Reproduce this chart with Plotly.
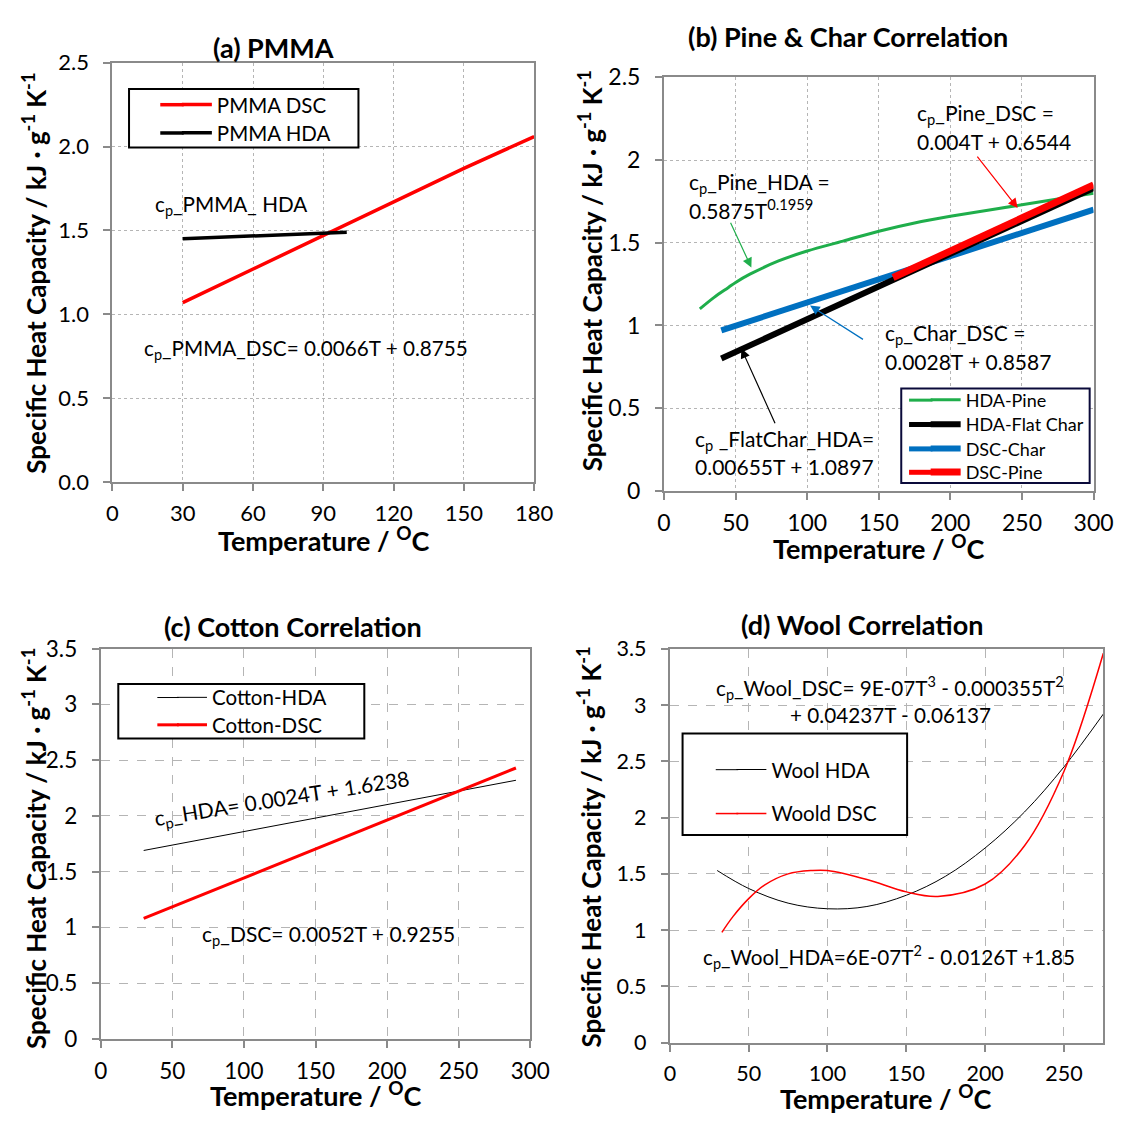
import plotly.graph_objects as go

W, H = 1137, 1122
FONT = "Lato"

# ---------------- data ----------------
pmma_T_dsc = [30, 60, 90, 120, 150, 180]
pmma_cp_dsc = [1.07, 1.27, 1.47, 1.67, 1.87, 2.06]
pmma_T_hda = [30, 100]
pmma_cp_hda = [1.45, 1.49]

pine_T_hda = [25, 35, 45, 50, 60, 80, 100, 125, 150, 175, 200, 250, 300]
pine_cp_hda = [1.10, 1.17, 1.23, 1.26, 1.31, 1.39, 1.45, 1.51, 1.57, 1.62, 1.66, 1.73, 1.80]
char_T_hda = [40, 300]
char_cp_hda = [0.80, 1.83]
char_T_dsc = [40, 300]
char_cp_dsc = [0.97, 1.70]
pine_T_dsc = [160, 300]
pine_cp_dsc = [1.29, 1.85]

cotton_T = [30, 290]
cotton_cp_hda = [1.69, 2.32]
cotton_cp_dsc = [1.08, 2.43]

wool_T_hda = [30, 50, 75, 100, 125, 150, 175, 200, 225, 250, 275]
wool_cp_hda = [1.53, 1.37, 1.24, 1.19, 1.21, 1.31, 1.48, 1.73, 2.05, 2.45, 2.92]
wool_T_dsc = [33, 40, 50, 60, 75, 90, 100, 125, 150, 170, 200, 225, 250, 275]
wool_cp_dsc = [0.98, 1.12, 1.28, 1.40, 1.50, 1.53, 1.53, 1.45, 1.34, 1.30, 1.41, 1.75, 2.41, 3.46]

titles = ["(a) PMMA", "(b) Pine & Char Correlation", "(c) Cotton Correlation", "(d) Wool Correlation"]
x_title = "Temperature / <sup>O</sup>C"
y_title = "Specific Heat Capacity / kJ · g<sup>-1</sup> K<sup>-1</sup>"

# ---------------- helpers ----------------
def px(x):
    return x / W

def py(y):
    return 1 - y / H

# panel pixel boxes: left, right, top, bottom
boxes = {
    1: (108, 540, 49, 479),
    2: (673, 1113, 64, 488),
    3: (96, 536, 650, 1050),
    4: (679, 1123, 650, 1054),
}

GREEN = "#1fae4b"
BLUE = "#0070C0"
RED = "#FF0000"

fig = go.Figure()

# each legend entry gets its own legend so it can sit exactly in its box
# (name, x, y, color, width, axis-suffix, text-start px, center-y px, font size, line shape, sample start px)
series = [
    ("PMMA DSC", pmma_T_dsc, pmma_cp_dsc, RED, 3.5, "", 215, 92, 20.5, "linear", 157),
    ("PMMA HDA", pmma_T_hda, pmma_cp_hda, "black", 3.5, "", 215, 121, 20.5, "linear", 157),
    ("HDA-Pine", pine_T_hda, pine_cp_hda, GREEN, 3, "2", 982, 395, 18, "spline", 924),
    ("DSC-Char", char_T_dsc, char_cp_dsc, BLUE, 6, "2", 982, 445, 18, "linear", 924),
    ("HDA-Flat Char", char_T_hda, char_cp_hda, "black", 6, "2", 982, 420, 18, "linear", 924),
    ("DSC-Pine", pine_T_dsc, pine_cp_dsc, RED, 7, "2", 982, 469, 18, "linear", 924),
    ("Cotton-HDA", cotton_T, cotton_cp_hda, "black", 1, "3", 210, 700, 20.5, "linear", 154),
    ("Cotton-DSC", cotton_T, cotton_cp_dsc, RED, 3, "3", 210, 728, 20.5, "linear", 154),
    ("Wool HDA", wool_T_hda, wool_cp_hda, "black", 1, "4", 783, 774, 20.5, "spline", 726),
    ("Woold DSC", wool_T_dsc, wool_cp_dsc, RED, 1.5, "4", 783, 819, 20.5, "spline", 726),
]

legend_layouts = {}
sample_ext = []
for k, (name, xs, ys, col, lw, sx, tx, ty, fs, shp, s0) in enumerate(series):
    lid = "legend" if k == 0 else "legend%d" % (k + 1)
    fig.add_trace(go.Scatter(x=xs, y=ys, mode="lines", name=name, line_shape=shp,
                             line=dict(color=col, width=lw), xaxis="x" + sx, yaxis="y" + sx,
                             legend=lid))
    legend_layouts[lid] = dict(x=px(tx - 41), y=py(ty), xanchor="left", yanchor="middle",
                               borderwidth=0, bgcolor="rgba(0,0,0,0)", itemwidth=30,
                               font=dict(family=FONT, size=fs, color="black"))
    # lengthen the legend line sample to the left, as in the original
    sample_ext.append(dict(type="line", xref="paper", yref="paper", x0=px(s0), x1=px(tx - 34),
                           y0=py(ty), y1=py(ty), line=dict(color=col, width=min(lw, 5)), layer="above"))

xranges = {1: [0, 180], 2: [0, 300], 3: [0, 300], 4: [0, 275]}
xdticks = {1: 30, 2: 50, 3: 50, 4: 50}
yranges = {1: [0, 2.5], 2: [0, 2.5], 3: [0, 3.5], 4: [0, 3.5]}
ytickfmt = {1: ".1f", 2: "", 3: "", 4: ""}
griddash = {1: "dot", 2: "dot", 3: "dash", 4: "dash"}
tickfs = {1: 22, 2: 23, 3: 22.5, 4: 21.5}

layout = dict(
    width=W, height=H, autosize=False, showlegend=True,
    margin=dict(l=0, r=0, t=0, b=0),
    paper_bgcolor="white", plot_bgcolor="white",
    font=dict(family=FONT, color="black"),
)
layout.update(legend_layouts)

for i in range(1, 5):
    l, r, t, b = boxes[i]
    sx = "" if i == 1 else str(i)
    common = dict(
        showline=True, mirror=True, linecolor="#8a8a8a", linewidth=2,
        ticks="outside", ticklen=7, tickcolor="#8a8a8a", tickwidth=1.5,
        showgrid=True, gridcolor="#b5b5b5", gridwidth=1, griddash=griddash[i],
        zeroline=False, tickfont=dict(family=FONT, size=tickfs[i], color="black"),
    )
    layout["xaxis" + sx] = dict(
        domain=[px(l), px(r)], range=xranges[i], dtick=xdticks[i], tick0=0,
        anchor="y" + sx, ticklabelstandoff=4, **common)
    layout["yaxis" + sx] = dict(
        domain=[py(b), py(t)], range=yranges[i], dtick=0.5, tick0=0,
        tickformat=ytickfmt[i], anchor="x" + sx, ticklabelstandoff=10, **common)

shapes = []
for (x0, y0, x1, y1, col) in [(125, 76, 360, 136, "black"), (916, 383, 1109, 480, "#0a0a3a"),
                              (114, 686, 366, 742, "black"), (692, 737, 922, 841, "black")]:
    shapes.append(dict(type="rect", xref="paper", yref="paper", x0=px(x0), x1=px(x1), y0=py(y1), y1=py(y0),
                       line=dict(color=col, width=2), fillcolor="white", layer="above"))
shapes.extend(sample_ext)
layout["shapes"] = shapes

fig.update_layout(**layout)

ann = []

def text(x, y, s, size=19, xanchor="left", angle=0):
    ann.append(dict(x=px(x), y=py(y), xref="paper", yref="paper", text=s, showarrow=False,
                    xanchor=xanchor, yanchor="middle", textangle=angle,
                    font=dict(family=FONT, size=size, color="black")))

# panel titles
text(273, 33, "<b>" + titles[0] + "</b>", size=27, xanchor="center")
text(861, 22, "<b>" + titles[1] + "</b>", size=27, xanchor="center")
text(293, 627, "<b>" + titles[2] + "</b>", size=27, xanchor="center")
text(876, 625, "<b>" + titles[3] + "</b>", size=27, xanchor="center")

# axis titles
for (cx, cy) in [(324, 537), (893, 546), (316, 1107), (900, 1110)]:
    text(cx, cy, "<b>" + x_title + "</b>", size=27, xanchor="center")
for (cx, cy) in [(28, 265), (598, 262), (28, 855), (597, 853)]:
    text(cx, cy, "<b>" + y_title + "</b>", size=26, xanchor="center", angle=-90)

# (a) equations
text(150, 195, "c<sub>p</sub>_PMMA_ HDA", size=20.7)
text(138, 343, "c<sub>p</sub>_PMMA_DSC= 0.0066T + 0.8755", size=20.7)

# (b) equations
text(930, 102, "c<sub>p</sub>_Pine_DSC =", size=21)
text(930, 130, "0.004T + 0.6544", size=21)
text(697, 172, "c<sub>p</sub>_Pine_HDA =", size=21)
text(697, 199, "0.5875T<sup>0.1959</sup>", size=21)
text(897, 327, "c<sub>p</sub>_Char_DSC =", size=21)
text(897, 355, "0.0028T + 0.8587", size=21)
text(703, 436, "c<sub>p</sub> _FlatChar_HDA=", size=21)
text(703, 463, "0.00655T + 1.0897", size=21)

# (c) equations
text(282, 804, "c<sub>p</sub>_HDA= 0.0024T + 1.6238", size=21, xanchor="center", angle=-9)
text(198, 944, "c<sub>p</sub>_DSC= 0.0052T + 0.9255", size=21)

# (d) equations
text(724, 690, "c<sub>p</sub>_Wool_DSC= 9E-07T<sup>3</sup> - 0.000355T<sup>2</sup>", size=20.7)
text(800, 718, "+ 0.04237T - 0.06137", size=20.7)
text(711, 966, "c<sub>p</sub>_Wool_HDA=6E-07T<sup>2</sup> - 0.0126T +1.85", size=20.7)

# (b) arrows (data coords on x2/y2)
def arrow(tail, head, color):
    ann.append(dict(x=head[0], y=head[1], ax=tail[0], ay=tail[1], xref="x2", yref="y2",
                    axref="x2", ayref="y2", text="", showarrow=True, arrowhead=2,
                    arrowsize=1.6, arrowwidth=1.2, arrowcolor=color))

arrow((218, 2.03), (247, 1.71), RED)
arrow((46, 1.63), (61, 1.35), GREEN)
arrow((140, 0.91), (102, 1.12), BLUE)
arrow((78, 0.40), (54, 0.86), "black")

fig.update_layout(annotations=ann)
fig.write_html("out.html")
